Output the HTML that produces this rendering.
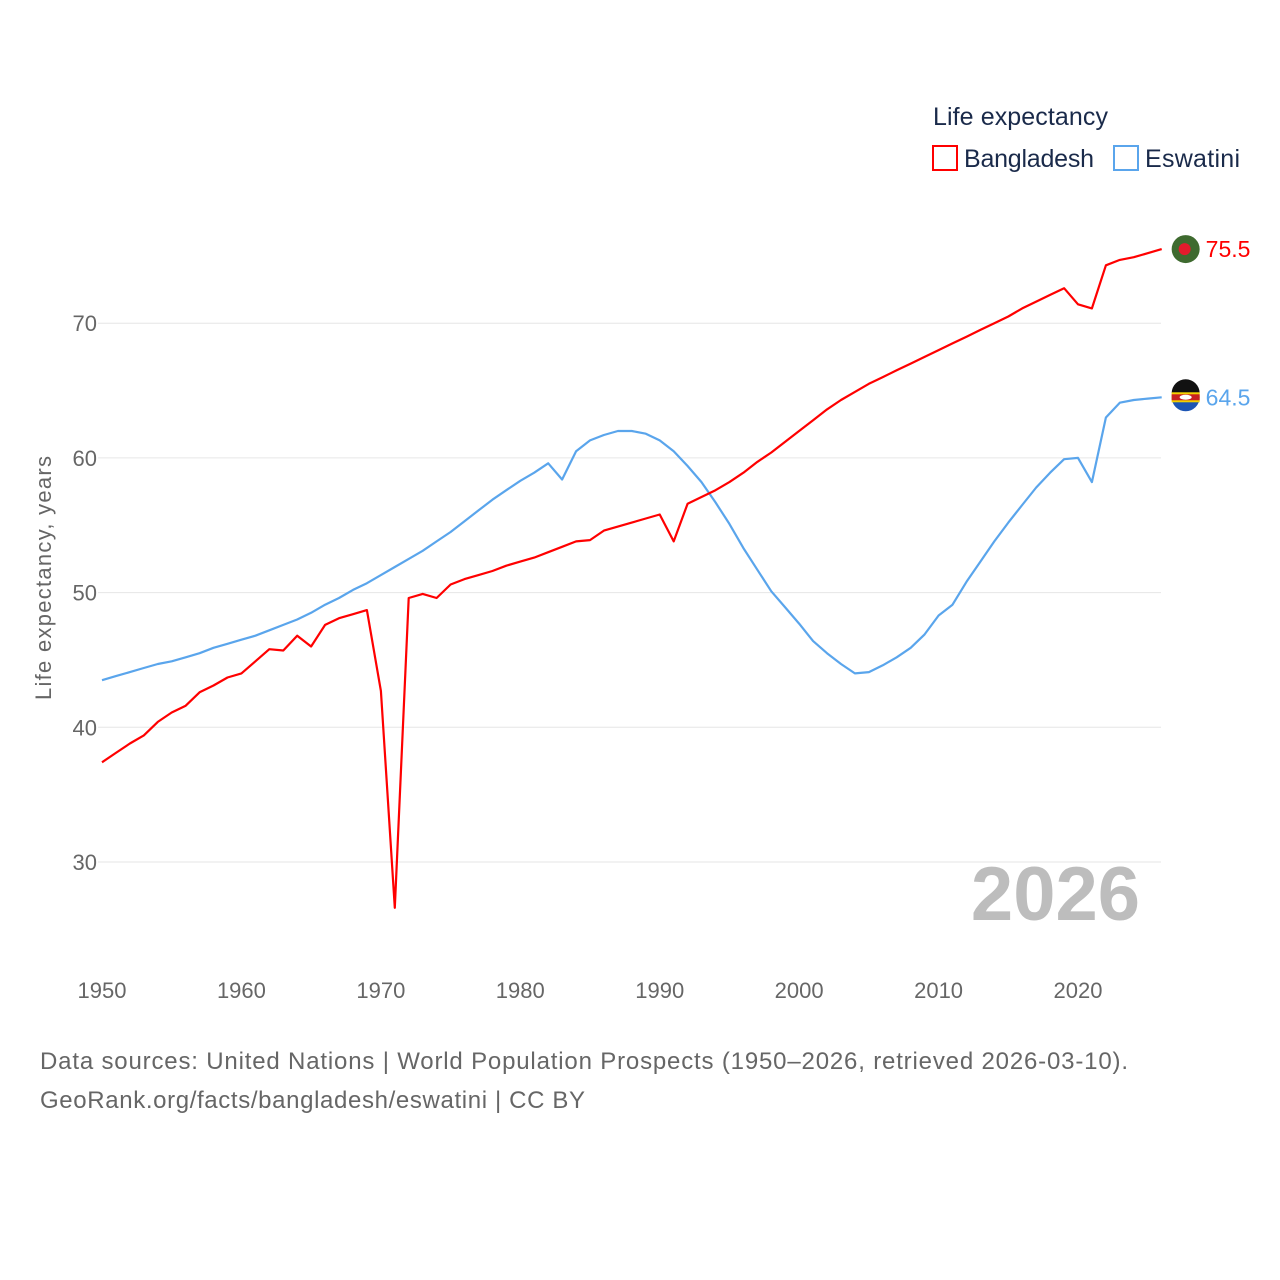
<!DOCTYPE html>
<html><head><meta charset="utf-8"><style>
body{margin:0;background:#fff;font-family:"Liberation Sans",sans-serif}
svg{display:block}
</style></head><body>
<svg id="chart" width="1280" height="1280" viewBox="0 0 1280 1280">
<rect width="1280" height="1280" fill="#fff"/>
<g id="grid"></g>
<g id="yticks"></g>
<g id="xticks"></g>
<text x="51" y="578" transform="rotate(-90 51 578)" text-anchor="middle" font-size="22" fill="#666" textLength="244">Life expectancy, years</text>
<text x="1140" y="920" text-anchor="end" font-size="76" font-weight="bold" fill="#bdbdbd">2026</text>
<g id="series"></g>
<g>
<text x="933" y="125" font-size="25" fill="#1a2a4a" textLength="175">Life expectancy</text>
<g>
<rect x="933" y="146" width="24" height="24" fill="none" stroke="#f00" stroke-width="2"/>
<text x="964" y="167" font-size="25" fill="#1a2a4a" textLength="130">Bangladesh</text></g>
<g>
<rect x="1114" y="146" width="24" height="24" fill="none" stroke="#5aa5ec" stroke-width="2"/>
<text x="1145" y="167" font-size="25" fill="#1a2a4a" textLength="95">Eswatini</text></g>
</g>
<text x="40" y="1069" font-size="24" fill="#666" textLength="1088">Data sources: United Nations | World Population Prospects (1950–2026, retrieved 2026-03-10).</text>
<text x="40" y="1108" font-size="24" fill="#666" textLength="545">GeoRank.org/facts/bangladesh/eswatini | CC BY</text>
</svg>
<script>
const years=[];for(let y=1950;y<=2026;y++)years.push(y);
const bangladesh=[37.4,38.1,38.8,39.4,40.4,41.1,41.6,42.6,43.1,43.7,44.0,44.9,45.8,45.7,46.8,46.0,47.6,48.1,48.4,48.7,42.7,26.6,49.6,49.9,49.6,50.6,51.0,51.3,51.6,52.0,52.3,52.6,53.0,53.4,53.8,53.9,54.6,54.9,55.2,55.5,55.8,53.8,56.6,57.1,57.6,58.2,58.9,59.7,60.4,61.2,62.0,62.8,63.6,64.3,64.9,65.5,66.0,66.5,67.0,67.5,68.0,68.5,69.0,69.5,70.0,70.5,71.1,71.6,72.1,72.6,71.4,71.1,74.3,74.7,74.9,75.2,75.5];
const eswatini=[43.5,43.8,44.1,44.4,44.7,44.9,45.2,45.5,45.9,46.2,46.5,46.8,47.2,47.6,48.0,48.5,49.1,49.6,50.2,50.7,51.3,51.9,52.5,53.1,53.8,54.5,55.3,56.1,56.9,57.6,58.3,58.9,59.6,58.4,60.5,61.3,61.7,62.0,62.0,61.8,61.3,60.5,59.4,58.2,56.7,55.1,53.3,51.7,50.1,48.9,47.7,46.4,45.5,44.7,44.0,44.1,44.6,45.2,45.9,46.9,48.3,49.1,50.8,52.3,53.8,55.2,56.5,57.8,58.9,59.9,60.0,58.2,63.0,64.1,64.3,64.4,64.5];
const yTicks=[30,40,50,60,70];
const xTicks=[1950,1960,1970,1980,1990,2000,2010,2020];
const X=y=>102+(y-1950)*(976/70);
const Y=v=>862-(v-30)*13.47;
const NS="http://www.w3.org/2000/svg";
function mk(tag,attrs,parent){const e=document.createElementNS(NS,tag);for(const k in attrs)e.setAttribute(k,attrs[k]);parent.appendChild(e);return e;}
const grid=document.getElementById('grid'),yt=document.getElementById('yticks'),xt=document.getElementById('xticks'),ser=document.getElementById('series');
yTicks.forEach(v=>{
 const l=mk('line',{x1:98,x2:1161,y1:Y(v),y2:Y(v),stroke:'#e6e6e6','stroke-width':1},grid);
 
 
 const t=mk('text',{x:97,y:Y(v)+8,'text-anchor':'end','font-size':22,fill:'#666'},yt);
 t.textContent=v;
 
 
});
xTicks.forEach(v=>{
 const t=mk('text',{x:X(v),y:998,'text-anchor':'middle','font-size':22,fill:'#666'},xt);
 t.textContent=v;
 
 
});
function line(data,color,name){
 const d=data.map((v,i)=>(i?'L':'M')+X(years[i]).toFixed(1)+' '+Y(v).toFixed(1)).join(' ');
 const p=mk('path',{d:d,fill:'none',stroke:color,'stroke-width':2.2,'stroke-linejoin':'round'},ser);
 
 
 const last=data[data.length-1];
 const cx=X(years[years.length-1])+24;
 const cy=Y(last);
 const c=mk('circle',{cx:cx,cy:cy,r:14,fill:name==='bangladesh'?'#3e6a2f':'#1d55b4'},ser);
 
 
 if(name==='bangladesh'){mk('circle',{cx:cx-1,cy:cy,r:6,fill:'#e21b2c'},ser);}
 else{mk('path',{d:`M${cx-14} ${cy-4} a14 14 0 0 1 28 0z`,fill:'#111'},ser);mk('rect',{x:cx-14,y:cy-5,width:28,height:10,fill:'#f3d000'},ser);mk('rect',{x:cx-14,y:cy-3,width:28,height:6,fill:'#c82020'},ser);mk('ellipse',{cx:cx,cy:cy,rx:6,ry:2.5,fill:'#fff'},ser);}
 const t=mk('text',{x:cx+20,y:cy+8,'font-size':23,fill:color},ser);
 t.textContent=last.toFixed(1);
 
 
}
line(eswatini,'#5aa5ec','eswatini');
line(bangladesh,'#f00','bangladesh');
</script>
</body></html>
